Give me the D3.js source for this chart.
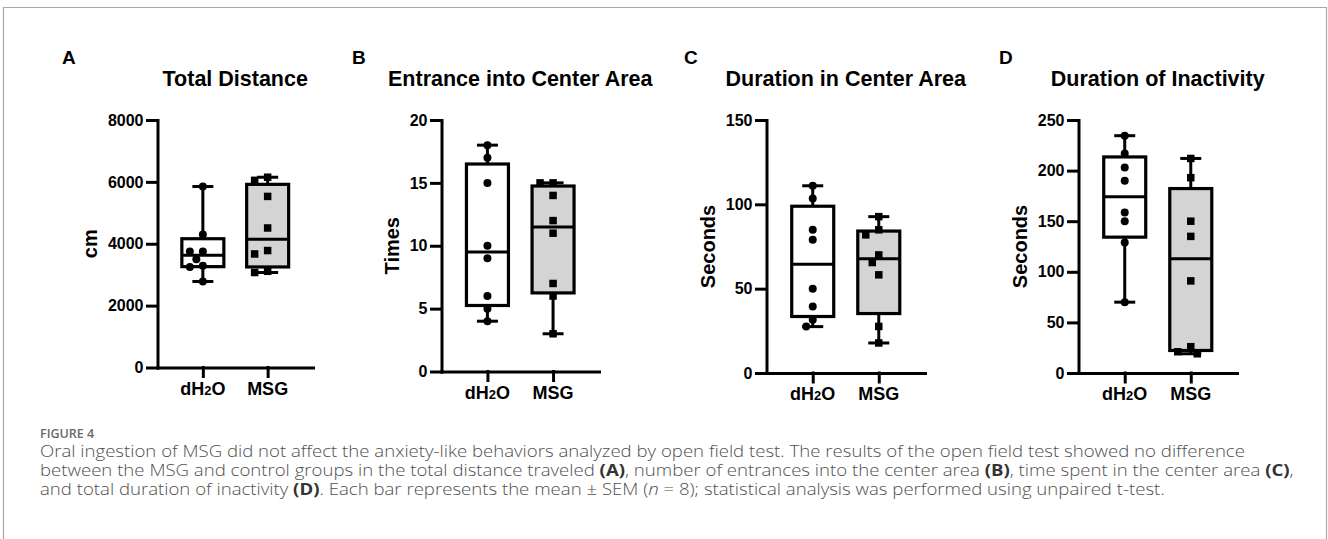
<!DOCTYPE html>
<html>
<head>
<meta charset="utf-8">
<script src="https://cdn.jsdelivr.net/npm/d3@7"></script>
<style>
  body { margin: 0; background: #fff; }
  svg { display: block; }
  .bold { font-family: "Liberation Sans", Arial, sans-serif; font-weight: bold; fill: #000; }
  .caption { font-family: "Open Sans", sans-serif; fill: #505050; }
</style>
</head>
<body>
<svg id="fig" width="1328" height="539"></svg>
<script>
// groups and panel text
var groups = ["dH2O", "MSG"];
var panelLetters = ["A", "B", "C", "D"];
var panelTitles = ["Total Distance", "Entrance into Center Area", "Duration in Center Area", "Duration of Inactivity"];
var yTitles = ["cm", "Times", "Seconds", "Seconds"];
var yMax = [8000, 20, 150, 250];
var yTicks = [[0, 2000, 4000, 6000, 8000], [0, 5, 10, 15, 20], [0, 50, 100, 150], [0, 50, 100, 150, 200, 250]];

// individual animals (n = 8 per group)
var distanceH2O = [5850, 4300, 3750, 3750, 3500, 3290, 3250, 2780];
var distanceMSG = [6150, 6050, 5530, 4510, 3780, 3670, 3110, 3070];
var entranceH2O = [18, 17, 15, 10, 9, 6, 5, 4];
var entranceMSG = [15, 15, 14, 12, 11, 7, 6, 3];
var centerTimeH2O = [111, 103.5, 85, 79, 50, 39.5, 31.5, 27.5];
var centerTimeMSG = [92.7, 84.9, 81.9, 70, 65.5, 58.2, 27.6, 17.8];
var inactiveH2O = [234.5, 217, 203, 190, 158.5, 150, 129, 70];
var inactiveMSG = [212, 193, 150, 135, 91, 26, 21, 19];

var panelData = [
    [distanceH2O, distanceMSG],
    [entranceH2O, entranceMSG],
    [centerTimeH2O, centerTimeMSG],
    [inactiveH2O, inactiveMSG]
];

var captionLines = [
    [{t: "Oral ingestion of MSG did not affect the anxiety-like behaviors analyzed by open field test. The results of the open field test showed no difference"}],
    [{t: "between the MSG and control groups in the total distance traveled "}, {t: "(A)", b: 1}, {t: ", number of entrances into the center area "}, {t: "(B)", b: 1}, {t: ", time spent in the center area "}, {t: "(C)", b: 1}, {t: ","}],
    [{t: "and total duration of inactivity "}, {t: "(D)", b: 1}, {t: ". Each bar represents the mean \u00b1 SEM ("}, {t: "n", i: 1}, {t: " = 8); statistical analysis was performed using unpaired t-test."}]
];

// where each panel sits on the page
var layout = [
    {x0: 157.5, x1: 313, y0: 120, y1: 367.5, lx: 62, ly: 64},
    {x0: 441.5, x1: 599, y0: 120, y1: 371.5, lx: 352, ly: 64},
    {x0: 766.5, x1: 925, y0: 120, y1: 373, lx: 684, ly: 64},
    {x0: 1078.5, x1: 1237, y0: 120, y1: 373, lx: 999, ly: 64}
];

var svg = d3.select("#fig");

// frame
svg.append("path")
    .attr("d", "M3.5,539V7.5H1326.5V539")
    .attr("fill", "none")
    .attr("stroke", "#a8a8a8")
    .attr("stroke-width", 1.2);

// GraphPad style quartile: rank = p*(n+1)
function quart(sorted, p) {
    var r = p * (sorted.length + 1) - 1;
    var lo = Math.floor(r), f = r - lo;
    if (lo < 0) return sorted[0];
    if (lo >= sorted.length - 1) return sorted[sorted.length - 1];
    return sorted[lo] + f * (sorted[lo + 1] - sorted[lo]);
}

// spread points sideways so they don't sit on top of each other
function spread(ys, d, step) {
    var placed = [];
    ys.forEach(function(y) {
	var k = 0, off = 0;
	while (true) {
	    off = (k % 2 == 1 ? -1 : 1) * Math.ceil(k / 2) * step;
	    var ok = placed.every(function(p) {
		return Math.hypot(p.dx - off, p.y - y) >= d;
	    });
	    if (ok) break;
	    k++;
	}
	placed.push({dx: off, y: y});
    });
    return placed;
}

function drawPanel(i) {
    var L = layout[i];
    var g = svg.append("g");

    var y = d3.scaleLinear().domain([0, yMax[i]]).range([L.y1, L.y0]);
    var x = d3.scalePoint().domain(groups).range([L.x0, L.x1]).padding(0.7);

    // y axis
    var ya = g.append("g")
	.attr("transform", "translate(" + L.x0 + ",0)")
	.call(d3.axisLeft(y).tickValues(yTicks[i]).tickFormat(d3.format("d"))
	      .tickSize(10).tickSizeOuter(0).tickPadding(4));
    ya.selectAll("text").attr("class", "bold").style("font-size", "16px");

    // x axis
    var xa = g.append("g")
	.attr("transform", "translate(0," + L.y1 + ")")
	.call(d3.axisBottom(x).tickSize(9).tickSizeOuter(0).tickFormat(""));

    g.selectAll(".domain, .tick line")
	.attr("stroke", "#000")
	.attr("stroke-width", 3)
	.attr("stroke-linecap", "square");

    // x labels
    groups.forEach(function(name) {
	var t = g.append("text").attr("class", "bold")
	    .attr("x", x(name)).attr("y", L.y1 + 27)
	    .attr("text-anchor", "middle")
	    .style("font-size", "18px");
	if (name == "dH2O") {
	    t.append("tspan").text("dH");
	    t.append("tspan").style("font-size", "13px").text("2");
	    t.append("tspan").text("O");
	} else {
	    t.text(name);
	}
    });

    // y title, placed left of the widest tick label
    var lw = d3.max(ya.selectAll("text").nodes(), function(n) { return n.getComputedTextLength(); });
    var tx = L.x0 - 14 - lw - 18;
    g.append("text").attr("class", "bold")
	.attr("transform", "translate(" + tx + "," + ((L.y0 + L.y1) / 2) + ") rotate(-90)")
	.attr("text-anchor", "middle")
	.attr("dy", "0.35em")
	.style("font-size", "20px")
	.text(yTitles[i]);

    // title and letter
    g.append("text").attr("class", "bold")
	.attr("x", (L.x0 + L.x1) / 2).attr("y", 85.5)
	.attr("text-anchor", "middle")
	.style("font-size", "21.5px")
	.text(panelTitles[i]);
    g.append("text").attr("class", "bold")
	.attr("x", L.lx).attr("y", L.ly)
	.style("font-size", "19px")
	.text(panelLetters[i]);

    // boxes
    var bw = 42, cap = 21;
    panelData[i].forEach(function(vals, gi) {
	var s = vals.slice().sort(d3.ascending);
	var q1 = quart(s, 0.25), med = quart(s, 0.5), q3 = quart(s, 0.75);
	var cx = x(groups[gi]);
	var fill = gi == 0 ? "#fff" : "#d4d4d4";

	g.append("line").attr("x1", cx).attr("x2", cx)
	    .attr("y1", y(s[s.length - 1])).attr("y2", y(q3))
	    .attr("stroke", "#000").attr("stroke-width", 3);
	g.append("line").attr("x1", cx).attr("x2", cx)
	    .attr("y1", y(q1)).attr("y2", y(s[0]))
	    .attr("stroke", "#000").attr("stroke-width", 3);
	[s[0], s[s.length - 1]].forEach(function(v) {
	    g.append("line").attr("x1", cx - cap / 2).attr("x2", cx + cap / 2)
		.attr("y1", y(v)).attr("y2", y(v))
		.attr("stroke", "#000").attr("stroke-width", 3);
	});
	g.append("rect")
	    .attr("x", cx - bw / 2).attr("y", y(q3))
	    .attr("width", bw).attr("height", y(q1) - y(q3))
	    .attr("fill", fill).attr("stroke", "#000").attr("stroke-width", 3.2);
	g.append("line").attr("x1", cx - bw / 2).attr("x2", cx + bw / 2)
	    .attr("y1", y(med)).attr("y2", y(med))
	    .attr("stroke", "#000").attr("stroke-width", 3);

	var pts = spread(vals.map(function(v) { return y(v); }), 8.5, 6.5);
	if (gi == 0) {
	    g.selectAll(null).data(pts).enter().append("circle")
		.attr("cx", function(p) { return cx + p.dx; })
		.attr("cy", function(p) { return p.y; })
		.attr("r", 4)
		.attr("fill", "#000");
	} else {
	    g.selectAll(null).data(pts).enter().append("rect")
		.attr("x", function(p) { return cx + p.dx - 3.75; })
		.attr("y", function(p) { return p.y - 3.75; })
		.attr("width", 7.5).attr("height", 7.5)
		.attr("fill", "#000");
	}
    });
}

for (var i = 0; i < 4; i++) drawPanel(i);

// caption
svg.append("text").attr("class", "caption")
    .attr("x", 40).attr("y", 437.5)
    .style("font-size", "12.5px").style("font-weight", 600).style("fill", "#6a6a6a")
    .text("FIGURE 4");

captionLines.forEach(function(line, li) {
    var t = svg.append("text").attr("class", "caption")
	.attr("transform", "translate(40," + (456.5 + li * 19.4) + ") scale(1.2,1)")
	.style("font-size", "15.5px")
	.style("font-weight", 300);
    line.forEach(function(seg) {
	var ts = t.append("tspan").text(seg.t);
	if (seg.b) ts.style("font-weight", "bold").style("fill", "#333");
	if (seg.i) ts.style("font-style", "italic");
    });
});
</script>
</body>
</html>
